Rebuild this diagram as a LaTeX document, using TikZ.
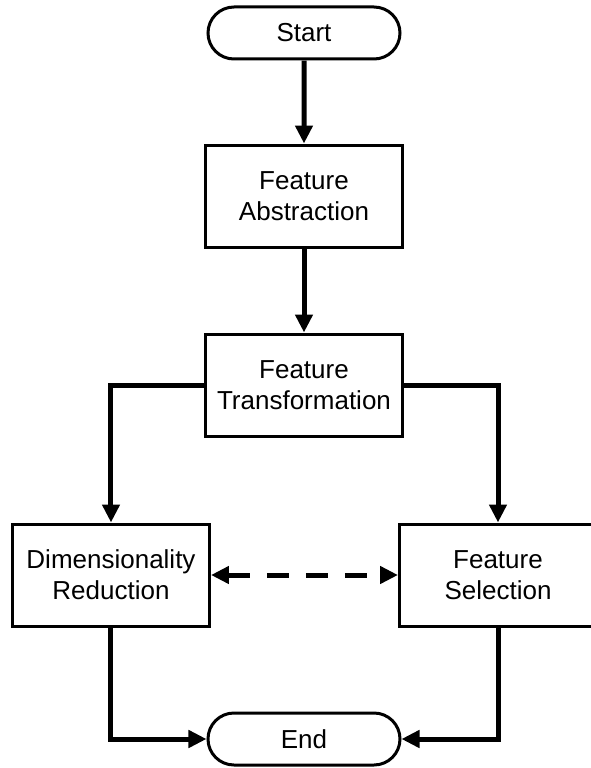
\documentclass[tikz,border=0pt]{standalone}
\usepackage{fontspec}
\setmainfont{Liberation Sans}
\usetikzlibrary{arrows.meta,positioning,shapes.misc}

\begin{document}
\begin{tikzpicture}[node distance=2cm,on grid,
    font=\fontsize{26}{31}\selectfont,
    terminal/.style={rounded rectangle,draw,line width=3pt,minimum width=192pt,minimum height=52pt,inner sep=0pt},
    process/.style={rectangle,draw,line width=3pt,minimum width=197pt,minimum height=102pt,inner sep=0pt,align=center},
    flow/.style={line width=5pt,-{Triangle[length=18pt,width=17pt]}}]
    \useasboundingbox (-304pt,33pt) rectangle (287pt,-735pt);
    \node[terminal] (start)                            {Start};
    \node[process]  (abstr)  [below=163pt of start]    {Feature\\Abstraction};
    \node[process]  (transf) [below=189pt of abstr]    {Feature\\Transformation};
    \node[process]  (dimred) [below left=190pt and 193pt of transf]  {Dimensionality\\Reduction};
    \node[process]  (select) [below right=190pt and 194pt of transf] {Feature\\Selection};
    \node[terminal] (end)    [below=354pt of transf]   {End};
    \draw[flow] (start) -- (abstr);
    \draw[flow] (abstr) -- (transf);
    \draw[flow] (transf.west) -| (dimred.north);
    \draw[flow] (transf.east) -| (select.north);
    \draw[flow] (dimred.south) |- (end.west);
    \draw[flow] (select.south) |- (end.east);
    % both ways between the two methods
    \draw[flow,{Triangle[length=18pt,width=17pt]}-{Triangle[length=18pt,width=17pt]},dash pattern=on 22pt off 17pt]
      (dimred.east) -- (select.west);
\end{tikzpicture}
\end{document}
